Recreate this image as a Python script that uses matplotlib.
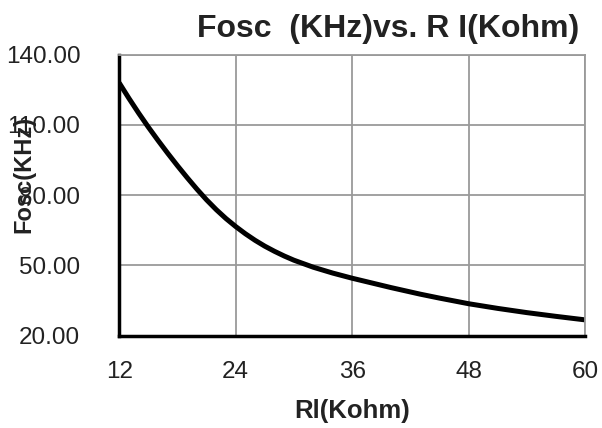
import numpy as np
import matplotlib
matplotlib.use('Agg')
import matplotlib.pyplot as plt

# values
rl = [12, 13, 14, 15, 16, 17, 18, 19, 20, 21, 22, 23, 24, 25, 26, 27, 28,
      29, 30, 32, 34, 36, 38, 40, 43, 45, 48, 51, 54, 57, 60]
fosc = [128, 121.4, 115.1, 109.1, 103.4, 97.9, 92.6, 87.5, 82.6, 78, 73.8,
        70, 66.6, 63.5, 60.7, 58.2, 56, 54, 52.2, 49.2, 46.7, 44.5, 42.5,
        40.5, 37.7, 36, 33.6, 31.6, 29.8, 28.2, 26.7]

xticks = [12, 24, 36, 48, 60]
yticks = [20, 50, 80, 110, 140]

plt.rcParams['font.family'] = ['Liberation Sans', 'DejaVu Sans']

fig = plt.figure(figsize=(6.02, 4.28), dpi=100)
ax = fig.add_axes([0.198, 0.216, 0.774, 0.656])

ax.plot(rl, fosc, color='black', lw=3.6, solid_capstyle='butt',
        solid_joinstyle='round')

ax.set_xlim(12, 60)
ax.set_ylim(20, 140)
ax.set_xticks(xticks)
ax.set_yticks(yticks)
ax.set_yticklabels(['%.2f' % v for v in yticks])
ax.grid(True, color='#9a9a9a', lw=1.3)
ax.set_axisbelow(True)

for s in ['top', 'right']:
    ax.spines[s].set_color('#9a9a9a')
    ax.spines[s].set_linewidth(1.3)
for s in ['left', 'bottom']:
    ax.spines[s].set_color('black')
    ax.spines[s].set_linewidth(2.5)

ax.tick_params(axis='both', length=0, labelsize=17.5, colors='#222222')
ax.tick_params(axis='y', pad=28)
ax.tick_params(axis='x', pad=18)

ax.set_xlabel('Rl(Kohm)', fontsize=18.5, fontweight='bold', color='#222222',
              labelpad=12)
fig.text(0.04, 0.593, 'Fosc(KHz)', rotation=90, fontsize=17,
         fontweight='bold', color='#222222', ha='center', va='center')
fig.text(0.645, 0.932, 'Fosc  (KHz)vs. R I(Kohm)', fontsize=23,
         fontweight='bold', color='#222222', ha='center', va='center')

plt.savefig('out.png', dpi=100)
